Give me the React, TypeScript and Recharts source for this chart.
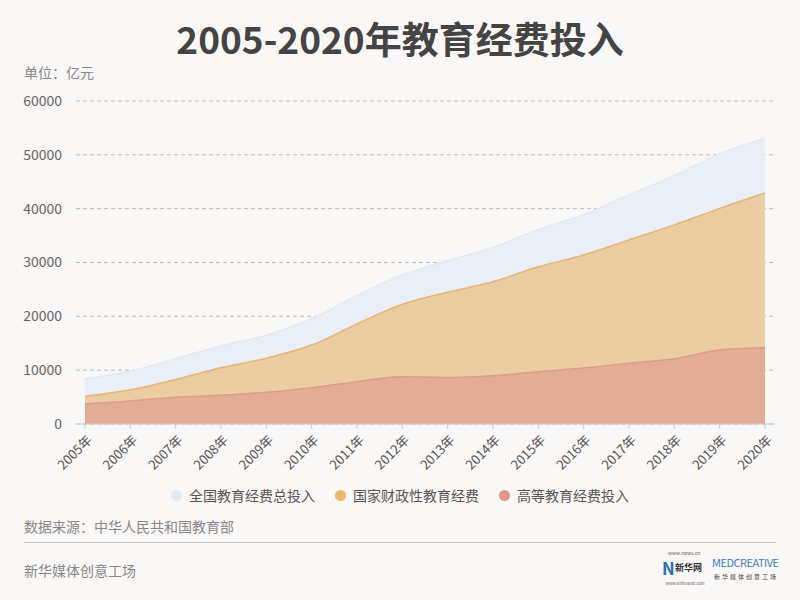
import React from "react";
import { AreaChart, Area, XAxis, YAxis, CartesianGrid } from "recharts";

const years = [
  "2005年", "2006年", "2007年", "2008年", "2009年", "2010年", "2011年", "2012年",
  "2013年", "2014年", "2015年", "2016年", "2017年", "2018年", "2019年", "2020年",
];
const totalInput = [
  8419, 9815, 12148, 14501, 16503, 19562, 23869, 27696,
  30365, 32806, 36129, 38888, 42562, 46143, 50178, 53033,
];
const fiscalInput = [
  5161, 6348, 8280, 10450, 12231, 14670, 18587, 22236,
  24488, 26421, 29221, 31396, 34208, 36996, 40047, 42908,
];
const higherEduInput = [
  3720, 4270, 4960, 5330, 5890, 6750, 7870, 8790,
  8650, 8980, 9720, 10400, 11280, 12140, 13750, 14180,
];
const yTicks = [0, 10000, 20000, 30000, 40000, 50000, 60000];

const seriesInfo = [
  { key: "total", name: "全国教育经费总投入", fill: "#eaeff7", stroke: "#e3e9f3", dot: "#e3ebf5" },
  { key: "fiscal", name: "国家财政性教育经费", fill: "#eccda2", stroke: "#e5b676", dot: "#ebb96a" },
  { key: "higher", name: "高等教育经费投入", fill: "#e4ac95", stroke: "#dc9c86", dot: "#e0978a" },
];

const rows = years.map((y, i) => ({
  year: y,
  total: totalInput[i],
  fiscal: fiscalInput[i],
  higher: higherEduInput[i],
}));

const FONT = '"Noto Sans CJK SC", "Noto Sans", sans-serif';

const XTick = ({ x, y, payload }: any) => (
  <text
    x={x + 4}
    y={y + 6}
    transform={`rotate(-45, ${x + 4}, ${y + 6})`}
    textAnchor="end"
    dominantBaseline="central"
    fontSize={13}
    fill="#555"
    fontFamily={FONT}
  >
    {payload.value}
  </text>
);

const abs = (left: number, top: number, extra: React.CSSProperties = {}): React.CSSProperties => ({
  position: "absolute",
  left,
  top,
  whiteSpace: "nowrap",
  ...extra,
});

export default function App() {
  return (
    <div
      style={{
        position: "relative",
        width: 800,
        height: 600,
        background: "#faf7f7",
        fontFamily: FONT,
        overflow: "hidden",
      }}
    >
      <style>{`body{margin:0}`}</style>
      <div
        style={{
          position: "absolute",
          top: 10,
          left: 0,
          width: 800,
          textAlign: "center",
          fontSize: 37,
          fontWeight: 700,
          color: "#444",
          lineHeight: "56px",
        }}
      >
        2005-2020年教育经费投入
      </div>
      <div style={abs(24, 62, { fontSize: 14, color: "#888" })}>单位：亿元</div>

      <div style={{ position: "absolute", left: 0, top: 0 }}>
        <AreaChart
          width={800}
          height={480}
          data={rows}
          margin={{ top: 101, right: 25, left: 0, bottom: 0 }}
        >
          <CartesianGrid vertical={false} stroke="#bdbdbd" strokeDasharray="4 3" />
          <XAxis
            dataKey="year"
            interval={0}
            padding={{ left: 9, right: 10 }}
            axisLine={{ stroke: "#ccc" }}
            tickLine={{ stroke: "#ccc" }}
            tickSize={5}
            height={56}
            tick={<XTick />}
          />
          <YAxis
            width={76}
            domain={[0, 60000]}
            ticks={yTicks}
            axisLine={false}
            tickLine={false}
            tickMargin={8}
            tick={{ fontSize: 14, fill: "#666", fontFamily: FONT }}
          />
          {seriesInfo.map((s) => (
            <Area
              key={s.key}
              type="monotone"
              dataKey={s.key}
              name={s.name}
              fill={s.fill}
              fillOpacity={1}
              stroke={s.stroke}
              strokeWidth={1.5}
              isAnimationActive={false}
              dot={false}
              activeDot={false}
            />
          ))}
        </AreaChart>
      </div>

      <div
        style={{
          position: "absolute",
          top: 485,
          left: 0,
          width: 800,
          display: "flex",
          justifyContent: "center",
          gap: 20,
          fontSize: 14,
          color: "#555",
        }}
      >
        {seriesInfo.map((s) => (
          <div key={s.key} style={{ display: "flex", alignItems: "center", gap: 7 }}>
            <span
              style={{ width: 11, height: 11, borderRadius: "50%", background: s.dot, display: "inline-block" }}
            />
            <span>{s.name}</span>
          </div>
        ))}
      </div>

      <div style={abs(24, 516, { fontSize: 14, color: "#888" })}>数据来源：中华人民共和国教育部</div>
      <div style={{ position: "absolute", left: 24, top: 542, width: 752, height: 1, background: "#ccc" }} />
      <div style={abs(24, 560, { fontSize: 14, color: "#888" })}>新华媒体创意工场</div>

      {/* logos, approximated with text */}
      <div style={abs(668, 549, { fontSize: 5, color: "#666", lineHeight: "7px" })}>www.news.cn</div>
      <div style={abs(662, 557, { fontSize: 17, fontWeight: 700, color: "#2a6fb5", lineHeight: "22px" })}>N</div>
      <div style={abs(675, 561, { fontSize: 9, fontWeight: 700, color: "#333", lineHeight: "13px" })}>新华网</div>
      <div style={abs(666, 580, { fontSize: 4, color: "#666", lineHeight: "6px" })}>www.xinhuanet.com</div>
      <div style={abs(712, 555, { fontSize: 11, color: "#3f7fb8", letterSpacing: -0.5, lineHeight: "15px" })}>
        MEDCREATIVE
      </div>
      <div style={abs(714, 572, { fontSize: 6, color: "#444", letterSpacing: 2, lineHeight: "9px" })}>
        新华媒体创意工场
      </div>
    </div>
  );
}
